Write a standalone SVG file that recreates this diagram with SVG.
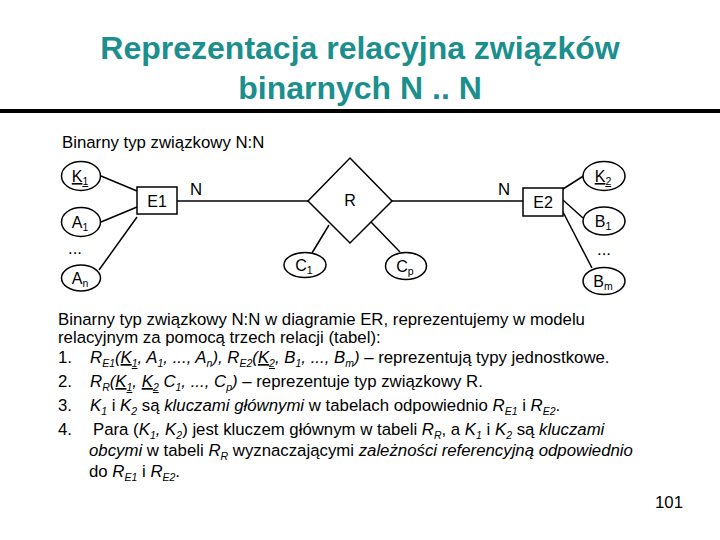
<svg xmlns="http://www.w3.org/2000/svg" width="720" height="540" viewBox="0 0 720 540">
<style>
text{font-family:"Liberation Sans",Arial,sans-serif;fill:#000}
.title{font-size:32px;font-weight:bold;fill:#1b8e8e;text-anchor:middle}
.lbl{font-size:16px;text-anchor:middle}
.p{font-size:16.8px}
.i{font-style:italic}
.s{font-size:10.5px}
.u{text-decoration:underline}
.shape{fill:#fff;stroke:#000;stroke-width:1.5}
.conn line{stroke:#000;stroke-width:1.5}
</style>
<rect width="720" height="540" fill="#fff"/>
<g id="title">
<text class="title" x="360" y="59">Reprezentacja relacyjna związków</text>
<text class="title" x="360" y="99">binarnych N .. N</text>
<rect x="0" y="109" width="720" height="4" fill="#000"/>
</g>
<text class="p" x="62" y="148" font-size="16.4">Binarny typ związkowy N:N</text>
<g class="conn" id="connectors">
<line x1="101" y1="176" x2="137" y2="191"/>
<line x1="101" y1="222" x2="137" y2="207"/>
<line x1="99" y1="270" x2="137" y2="217"/>
<line x1="177" y1="201" x2="308" y2="201"/>
<line x1="392" y1="201" x2="523" y2="201"/>
<line x1="312" y1="253" x2="329" y2="225"/>
<line x1="371" y1="222" x2="400" y2="252"/>
<line x1="563" y1="189" x2="585" y2="175"/>
<line x1="563" y1="200" x2="583" y2="218"/>
<line x1="563" y1="212" x2="592" y2="268"/>
<text class="p" x="190" y="195" font-size="15.5">N</text>
<text class="p" x="498" y="195" font-size="15.5">N</text>
</g>
<g id="E1"><rect class="shape" x="137" y="187" width="40" height="27"/><text class="lbl" x="157" y="207">E1</text></g>
<g id="E2"><rect class="shape" x="523" y="188" width="40" height="28"/><text class="lbl" x="543" y="208">E2</text></g>
<g id="R"><polygon class="shape" points="350,158 392,201 350,243 308,201"/><text class="lbl" x="350" y="206">R</text></g>
<g id="K1"><ellipse class="shape" cx="81" cy="176" rx="19.5" ry="14.5"/><text class="lbl" x="80" y="182"><tspan class="u">K<tspan class="s" dy="3">1</tspan></tspan></text></g>
<g id="A1"><ellipse class="shape" cx="81" cy="222" rx="19.5" ry="14.5"/><text class="lbl" x="80" y="228">A<tspan class="s" dy="3">1</tspan></text></g>
<text class="p" x="68" y="254" font-size="12">...</text>
<g id="An"><ellipse class="shape" cx="81" cy="278" rx="19.5" ry="13"/><text class="lbl" x="80" y="284">A<tspan class="s" dy="3">n</tspan></text></g>
<g id="C1"><ellipse class="shape" cx="305" cy="265" rx="21" ry="12.5"/><text class="lbl" x="304" y="271">C<tspan class="s" dy="3">1</tspan></text></g>
<g id="Cp"><ellipse class="shape" cx="406" cy="266" rx="20.5" ry="13.5"/><text class="lbl" x="405" y="272">C<tspan class="s" dy="3">p</tspan></text></g>
<g id="K2"><ellipse class="shape" cx="604" cy="176" rx="21" ry="14.5"/><text class="lbl" x="603" y="182"><tspan class="u">K<tspan class="s" dy="3">2</tspan></tspan></text></g>
<g id="B1"><ellipse class="shape" cx="604" cy="221" rx="21" ry="14"/><text class="lbl" x="603" y="227">B<tspan class="s" dy="3">1</tspan></text></g>
<text class="p" x="597" y="255" font-size="12">...</text>
<g id="Bm"><ellipse class="shape" cx="604" cy="281" rx="21" ry="13.5"/><text class="lbl" x="603" y="287">B<tspan class="s" dy="3">m</tspan></text></g>
<g id="text">
<text class="p" x="58" y="325">Binarny typ związkowy N:N w diagramie ER, reprezentujemy w modelu</text>
<text class="p" x="58" y="343">relacyjnym za pomocą trzech relacji (tabel):</text>
<text class="p" x="58" y="363">1.</text>
<text class="p" x="90" y="363"><tspan class="i">R</tspan><tspan class="s i" dy="4">E1</tspan><tspan class="i" dy="-4">(</tspan><tspan class="i u">K<tspan class="s" dy="4">1</tspan></tspan><tspan class="i" dy="-4">, A</tspan><tspan class="s i" dy="4">1</tspan><tspan class="i" dy="-4">, ..., A</tspan><tspan class="s i" dy="4">n</tspan><tspan class="i" dy="-4">), R</tspan><tspan class="s i" dy="4">E2</tspan><tspan class="i" dy="-4">(</tspan><tspan class="i u">K<tspan class="s" dy="4">2</tspan></tspan><tspan class="i" dy="-4">, B</tspan><tspan class="s i" dy="4">1</tspan><tspan class="i" dy="-4">, ..., B</tspan><tspan class="s i" dy="4">m</tspan><tspan class="i" dy="-4">)</tspan> – reprezentują typy jednostkowe.</text>
<text class="p" x="58" y="387">2.</text>
<text class="p" x="90" y="387"><tspan class="i">R</tspan><tspan class="s i" dy="4">R</tspan><tspan class="i" dy="-4">(</tspan><tspan class="i u">K<tspan class="s" dy="4">1</tspan></tspan><tspan class="i" dy="-4">, </tspan><tspan class="i u">K<tspan class="s" dy="4">2</tspan></tspan><tspan class="i" dy="-4"> C</tspan><tspan class="s i" dy="4">1</tspan><tspan class="i" dy="-4">, ..., C</tspan><tspan class="s i" dy="4">p</tspan><tspan class="i" dy="-4">)</tspan> – reprezentuje typ związkowy R.</text>
<text class="p" x="58" y="411">3.</text>
<text class="p" x="90" y="411"><tspan class="i">K</tspan><tspan class="s i" dy="4">1</tspan><tspan dy="-4"> i </tspan><tspan class="i">K</tspan><tspan class="s i" dy="4">2</tspan><tspan dy="-4"> są </tspan><tspan class="i">kluczami głównymi</tspan> w tabelach odpowiednio <tspan class="i">R</tspan><tspan class="s i" dy="4">E1</tspan><tspan dy="-4"> i </tspan><tspan class="i">R</tspan><tspan class="s i" dy="4">E2</tspan><tspan dy="-4">.</tspan></text>
<text class="p" x="58" y="435">4.</text>
<text class="p" x="93" y="435">Para (<tspan class="i">K</tspan><tspan class="s i" dy="4">1</tspan><tspan class="i" dy="-4">, K</tspan><tspan class="s i" dy="4">2</tspan><tspan dy="-4">) jest kluczem głównym w tabeli </tspan><tspan class="i">R</tspan><tspan class="s i" dy="4">R</tspan><tspan dy="-4">, a </tspan><tspan class="i">K</tspan><tspan class="s i" dy="4">1</tspan><tspan dy="-4"> i </tspan><tspan class="i">K</tspan><tspan class="s i" dy="4">2</tspan><tspan dy="-4"> są </tspan><tspan class="i">kluczami</tspan></text>
<text class="p" x="89" y="456"><tspan class="i">obcymi</tspan> w tabeli <tspan class="i">R</tspan><tspan class="s i" dy="4">R</tspan><tspan dy="-4"> wyznaczającymi </tspan><tspan class="i">zależności referencyjną odpowiednio</tspan></text>
<text class="p" x="89" y="477">do  <tspan class="i">R</tspan><tspan class="s i" dy="4">E1</tspan><tspan dy="-4"> i </tspan><tspan class="i">R</tspan><tspan class="s i" dy="4">E2</tspan><tspan dy="-4">.</tspan></text>
</g>
<text class="p" x="655" y="508" font-size="13">101</text>
</svg>
